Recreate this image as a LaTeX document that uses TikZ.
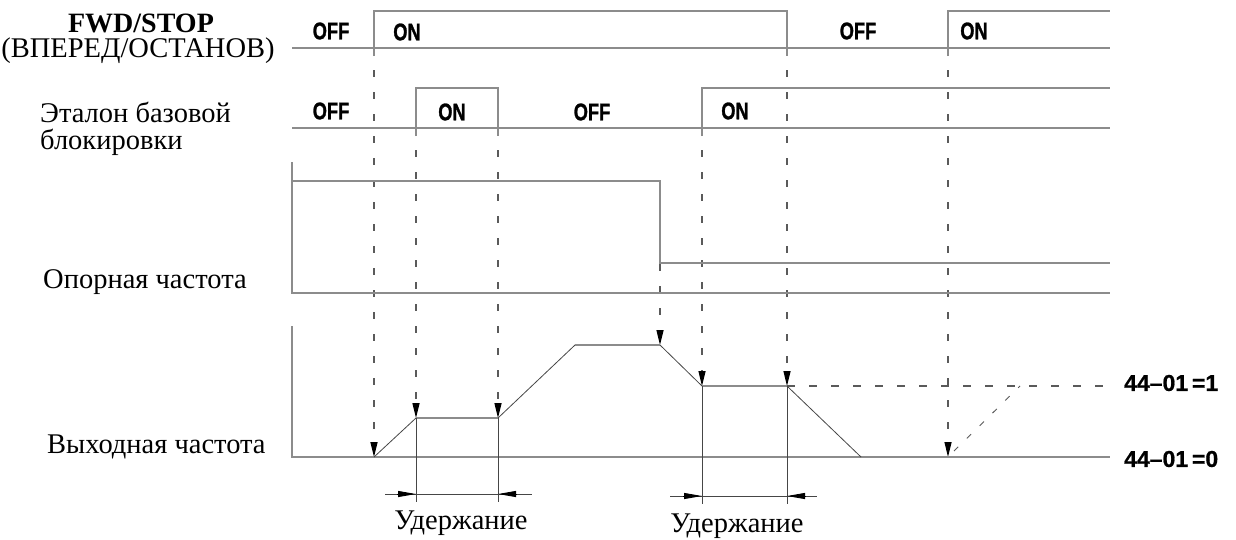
\documentclass[tikz,border=0pt]{standalone}
\usepackage{fontspec}
\setmainfont{Liberation Serif}
\newfontfamily\condf[FakeStretch=0.76,FakeBold=1.2]{Liberation Sans}
\newfontfamily\condg[FakeBold=0.8]{Liberation Sans}
\usetikzlibrary{arrows.meta}
\definecolor{sigcol}{RGB}{140,140,140}
\definecolor{dashcol}{RGB}{90,90,90}
\definecolor{thincol}{RGB}{70,70,70}
\begin{document}
\begin{tikzpicture}[x=1pt,y=-1pt,
  sig/.style={draw=sigcol,line width=1.6pt},
  ramp/.style={draw=thincol,line width=0.8pt},
  vline/.style={draw=thincol,line width=0.9pt},
  guide/.style={draw=dashcol,line width=1.3pt,dash pattern=on 7pt off 15pt},
  gtip/.style={-{Triangle[width=7pt,length=15pt,color=black]}},
  htip/.style={-{Triangle[width=6pt,length=18pt]},draw=black,line width=0.9pt},
  lab/.style={font=\fontsize{28.5}{30}\selectfont,inner sep=0pt},
  st/.style={font=\condf\bfseries\fontsize{24}{26}\selectfont,inner sep=0pt},
  eq/.style={font=\condg\bfseries\fontsize{23}{26}\selectfont,inner sep=0pt,anchor=west}]
\useasboundingbox (0,0) rectangle (1236,539);
% ---------- labels ----------
\node[lab,font=\bfseries\fontsize{28}{30}\selectfont,anchor=base] (fwd) at (141,32) {FWD/STOP};
\node[lab,anchor=base] (fwdru) at (138,57) {(ВПЕРЕД/ОСТАНОВ)};
\node[lab,anchor=base west] (bb1) at (40,122) {Эталон базовой};
\node[lab,anchor=base west] (bb2) at (40,149) {блокировки};
\node[lab,anchor=base west] (ref) at (43,288) {Опорная частота};
\node[lab,anchor=base west] (out) at (47,453) {Выходная частота};
\node[lab,anchor=base] (hold1) at (461,529) {Удержание};
\node[lab,anchor=base] (hold2) at (737,532) {Удержание};
\node[eq] (eq1) at (1124,383) {44–01\,=1};
\node[eq] (eq0) at (1124,459) {44–01\,=0};
% state texts
\node[st] (f1) at (331,31) {OFF};
\node[st] (f2) at (407,32) {ON};
\node[st] (f3) at (858,31) {OFF};
\node[st] (f4) at (974,31) {ON};
\node[st] (b1) at (331,111) {OFF};
\node[st] (b2) at (452,112) {ON};
\node[st] (b3) at (592,112) {OFF};
\node[st] (b4) at (735,111) {ON};
% ---------- dashed guides ----------
\coordinate (g1t) at (374,48);  \coordinate (o1) at (374,457);
\coordinate (g2t) at (416,128); \coordinate (o2) at (416,418);
\coordinate (g3t) at (498,128); \coordinate (o3) at (498,418);
\coordinate (g4t) at (660,264); \coordinate (o4) at (660,345);
\coordinate (g5t) at (702,128); \coordinate (o5) at (702,386);
\coordinate (g6t) at (787,48);  \coordinate (o6) at (787,386);
\coordinate (g7t) at (948,48);  \coordinate (o7) at (948,457);
\foreach \i in {1,...,7}{\draw[guide,gtip] (g\i t) -- (o\i);}
% dashed branch 44-01=1
\coordinate (d1end) at (1110,386);
\coordinate (dd1) at (954,451); \coordinate (dd2) at (1020,386);
\draw[guide,dash pattern=on 8pt off 14pt] (o6) -- (d1end);
\draw[draw=dashcol,line width=0.9pt,dash pattern=on 6pt off 12pt] (dd1) -- (dd2);
% ---------- FWD/STOP ----------
\draw[sig] (292,48) -- (1110,48);
\draw[sig] (374,56) -- (374,11) -- (787,11) -- (787,56);
\draw[sig] (948,56) -- (948,11) -- (1110,11);
% ---------- base block ----------
\draw[sig] (292,128) -- (1110,128);
\draw[sig] (416,136) -- (416,88) -- (498,88) -- (498,136);
\draw[sig] (702,136) -- (702,88) -- (1110,88);
% ---------- reference frequency ----------
\draw[sig] (292,162) -- (292,293) -- (1110,293);
\draw[sig] (292,181) -- (660,181) -- (660,263) -- (1110,263);
% ---------- output frequency ----------
\draw[sig] (292,326) -- (292,457) -- (1110,457);
\coordinate (o3b) at (575,345);
\coordinate (o7b) at (861,457);
\draw[ramp] (o1) -- (o2);
\draw[sig] (o2) -- (o3);
\draw[ramp] (o3) -- (o3b);
\draw[sig] (o3b) -- (o4);
\draw[ramp] (o4) -- (o5);
\draw[sig] (o5) -- (o6);
\draw[ramp] (o6) -- (o7b);
% hold verticals
\draw[vline] (o2) -- (416,502);
\draw[vline] (o3) -- (498,502);
\draw[vline] (o5) -- (702,504);
\draw[vline] (o6) -- (787,504);
% hold arrows
\draw[vline] (385,494) -- (532,494);
\draw[htip] (397,494) -- (416,494);
\draw[htip] (517,494) -- (498,494);
\draw[vline] (670,496) -- (817,496);
\draw[htip] (683,496) -- (702,496);
\draw[htip] (806,496) -- (787,496);
\end{tikzpicture}
\end{document}
